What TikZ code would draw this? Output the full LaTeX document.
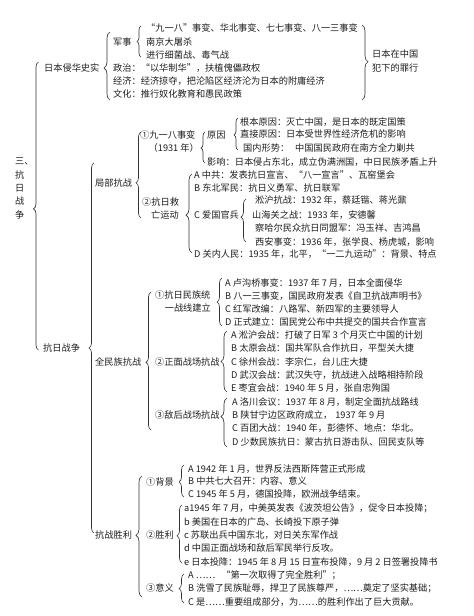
\documentclass[tikz,border=0pt]{standalone}
\usepackage{fontspec}
\setmainfont{Noto Sans CJK SC}
\usetikzlibrary{decorations.pathreplacing}
\tikzset{
  t/.style={anchor=west, inner sep=0pt, font=\fontsize{9.2}{11}\selectfont, text=black!88},
  te/.style={t, anchor=east},
  brc/.style n args={2}{decorate, draw=black!80, line width=0.65pt,
    decoration={brace, amplitude=#1, aspect=#2}},
}
\begin{document}
\begin{tikzpicture}[x=1pt,y=1pt]
\fill[white] (0,0) rectangle (474,-616);
\useasboundingbox (0,0) rectangle (474,-616);

% ---- title column
\node[t, align=left, font=\fontsize{9.2}{13.3}\selectfont] (title) at (15,-188.5) {三、\\抗\\日\\战\\争};
\draw[brc={5pt}{0.49}] (38.5,-350) -- (38.5,-62);

% ---- 日本侵华史实
\node[t] (rbqh) at (44,-68) {日本侵华史实};
\draw[brc={6pt}{0.47}] (110,-100) -- (110,-32);
\node[t] (js) at (113,-42) {军事};
\draw[brc={4pt}{0.5}] (141,-57) -- (141,-26);
\node[t] (js1) at (146,-28) {“九一八”事变、华北事变、七七事变、八一三事变};
\node[t] (js2) at (146,-42) {南京大屠杀};
\node[t] (js3) at (146,-55) {进行细菌战、毒气战};
\node[t] (zz) at (113,-68) {政治：“以华制华”，扶植傀儡政权};
\node[t] (jj) at (113,-81) {经济：经济掠夺，把沦陷区经济沦为日本的附庸经济};
\node[t] (wh) at (113,-94) {文化：推行奴化教育和愚民政策};
\draw[brc={6pt}{0.49}] (362,-25) -- (362,-100);
\node[t, align=left, font=\fontsize{9.2}{14.5}\selectfont] (zx) at (372,-61) {日本在中国\\犯下的罪行};

% ---- 抗日战争
\node[t] (kr) at (43,-348) {抗日战争};
\draw[brc={5pt}{0.5}] (94,-533) -- (94,-163);

% ---- 局部抗战
\node[t] (jb) at (95,-183) {局部抗战};
\draw[brc={5pt}{0.41}] (141,-218) -- (141,-132);
\node[t] (jyb) at (140,-135) {①九一八事变};
\node[te] (jyb2) at (199,-148) {（1931 年）};
\draw[brc={4pt}{0.48}] (205,-163) -- (205,-132);
\node[t] (yy) at (207,-135) {原因};
\draw[brc={4pt}{0.47}] (238,-150) -- (238,-118);
\node[t] (yy1) at (240,-122) {根本原因：灭亡中国，是日本的既定国策};
\node[t] (yy2) at (240,-134.5) {直接原因：日本受世界性经济危机的影响};
\node[t] (yy3) at (243,-148) {国内形势：\hspace{6pt}中国国民政府在南方全力剿共};
\node[t] (yx) at (207,-162) {影响：日本侵占东北，成立伪满洲国，中日民族矛盾上升};
\node[t] (kj) at (142,-202) {②抗日救};
\node[te] (kj2) at (179,-215) {亡运动};
\draw[brc={6pt}{0.48}] (192,-253) -- (192,-174);
\node[t] (kjA) at (194,-175) {A 中共：发表抗日宣言、“八一宣言”、瓦窑堡会};
\node[t] (kjB) at (194,-188) {B 东北军民：抗日义勇军、抗日联军};
\node[t] (kjC) at (194,-215) {C 爱国官兵};
\node[t] (kjD) at (194,-254) {D 关内人民：1935 年，北平，“一二九运动”：背景、特点};
\draw[brc={5pt}{0.58}] (246,-242) -- (246,-199);
\node[t] (ag1) at (255,-200) {淞沪抗战：1932 年，蔡廷锴、蒋光鼐};
\node[t] (ag2) at (252,-215) {山海关之战：1933 年，安德馨};
\node[t] (ag3) at (255,-228) {察哈尔民众抗日同盟军：冯玉祥、吉鸿昌};
\node[t] (ag4) at (255,-242) {西安事变：1936 年，张学良、杨虎城，影响};

% ---- 全民族抗战
\node[t] (qm) at (95,-362) {全民族抗战};
\draw[brc={5pt}{0.49}] (151,-430) -- (151,-292);
\node[t] (tx) at (155,-295) {①抗日民族统};
\node[te] (tx2) at (211,-308) {一战线建立};
\draw[brc={5pt}{0.5}] (222,-326) -- (222,-278);
\node[t] (txA) at (225,-283) {A 卢沟桥事变：1937 年 7 月，日本全面侵华};
\node[t] (txB) at (225,-296) {B 八一三事变，国民政府发表《自卫抗战声明书》};
\node[t] (txC) at (225,-309) {C 红军改编：八路军、新四军的主要领导人};
\node[t] (txD) at (225,-322) {D 正式建立：国民党公布中共提交的国共合作宣言};
\node[t] (zm) at (155,-362) {②正面战场抗战};
\draw[brc={6pt}{0.5}] (227,-392) -- (227,-331);
\node[t] (zmA) at (231,-335) {A 淞沪会战：打破了日军 3 个月灭亡中国的计划};
\node[t] (zmB) at (231,-348) {B 太原会战：国共军队合作抗日，平型关大捷};
\node[t] (zmC) at (231,-362) {C 徐州会战：李宗仁，台儿庄大捷};
\node[t] (zmD) at (231,-375) {D 武汉会战：武汉失守，抗战进入战略相持阶段};
\node[t] (zmE) at (231,-388) {E 枣宜会战：1940 年 5 月，张自忠殉国};
\node[t] (dh) at (155,-415) {③敌后战场抗战};
\draw[brc={6pt}{0.62}] (227,-447) -- (227,-398);
\node[t] (dhA) at (232,-402) {A 洛川会议：1937 年 8 月，制定全面抗战路线};
\node[t] (dhB) at (232,-415) {B 陕甘宁边区政府成立，\hspace{3pt}1937 年 9 月};
\node[t] (dhC) at (232,-428) {C 百团大战：1940 年，彭德怀、地点：华北。};
\node[t] (dhD) at (232,-442) {D 少数民族抗日：蒙古抗日游击队、回民支队等};

% ---- 抗战胜利
\node[t] (sl) at (95,-535) {抗战胜利};
\draw[brc={6pt}{0.51}] (142,-597) -- (142,-476);
\node[t] (bj) at (146,-482) {①背景};
\draw[brc={5pt}{0.47}] (184,-497) -- (184,-465);
\node[t] (bjA) at (188,-469) {A 1942 年 1 月，世界反法西斯阵营正式形成};
\node[t] (bjB) at (188,-481) {B 中共七大召开：内容、意义};
\node[t] (bjC) at (188,-494) {C 1945 年 5 月，德国投降，欧洲战争结束。};
\node[t] (sl2) at (146,-535) {②胜利};
\draw[brc={5pt}{0.47}] (182,-563) -- (182,-505);
\node[t] (sla) at (184,-508) {a1945 年 7 月，中美英发表《波茨坦公告》，促令日本投降；};
\node[t] (slb) at (184,-522) {b 美国在日本的广岛、长崎投下原子弹};
\node[t] (slc) at (184,-535) {c 苏联出兵中国东北，对日关东军作战};
\node[t] (sld) at (184,-548) {d 中国正面战场和敌后军民举行反攻。};
\node[t] (sle) at (184,-562) {e 日本投降：1945 年 8 月 15 日宣布投降，9 月 2 日签署投降书};
\node[t] (yi) at (146,-588) {③意义};
\draw[brc={5pt}{0.5}] (184,-603) -- (184,-574);
\node[t] (yiA) at (188,-575) {A ……\hspace{6pt}“第一次取得了完全胜利”；};
\node[t] (yiB) at (188,-588) {B 洗雪了民族耻辱，捍卫了民族尊严，……奠定了坚实基础；};
\node[t] (yiC) at (188,-602) {C 是……重要组成部分，为……的胜利作出了巨大贡献。};
\end{tikzpicture}
\end{document}
